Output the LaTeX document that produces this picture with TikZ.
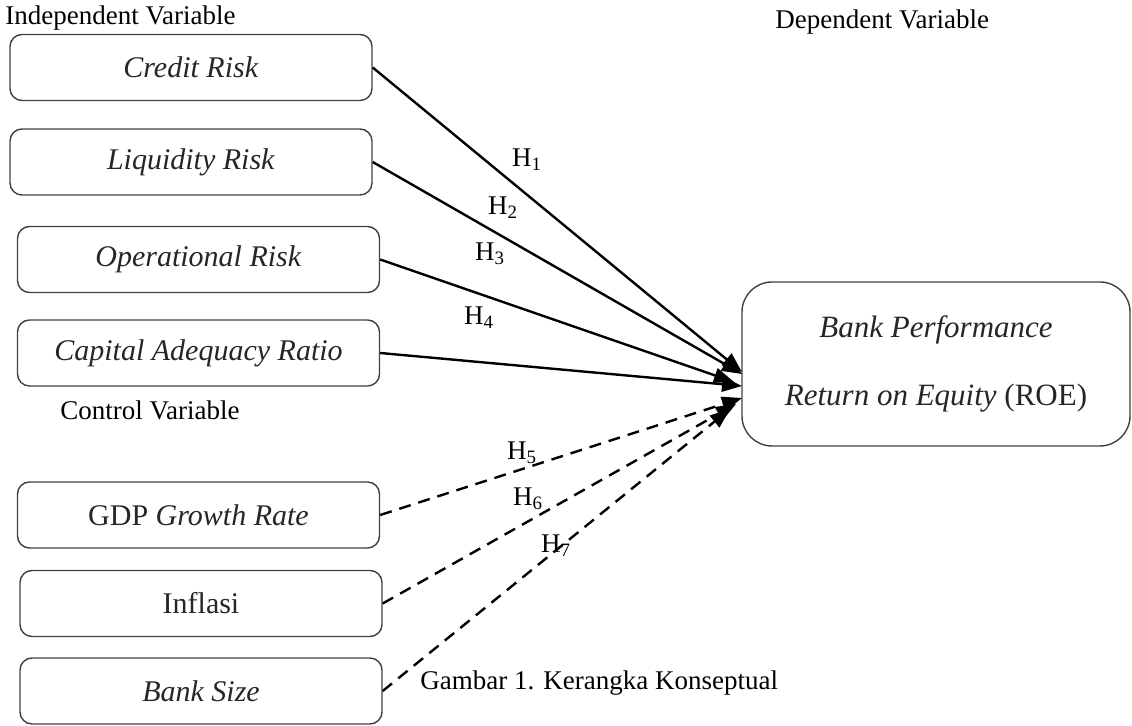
\documentclass[tikz,border=0pt]{standalone}
\usepackage{fontspec}
\setmainfont{Liberation Serif}
\usetikzlibrary{arrows.meta}
\begin{document}
\begin{tikzpicture}[x=0.5pt, y=-0.5pt,
    varbox/.style={draw=black!75, line width=0.7pt, rounded corners=6pt,
        minimum width=181pt, minimum height=33pt, inner sep=0pt,
        font=\fontsize{15}{18}\selectfont, text=black!85},
    hyp/.style={-{Triangle[length=10pt,width=7.5pt]}, line width=1.2pt},
    ctl/.style={hyp, dash pattern=on 6pt off 4pt},
    lbl/.style={font=\fontsize{13.5}{16}\selectfont, inner sep=0pt}]
\useasboundingbox (0,0) rectangle (1132,726);
% independent variables
\node[varbox] (cr) at (191,67.5) {\textit{Credit Risk}};
\node[varbox] (lr) at (191,162) {\textit{Liquidity Risk}};
\node[varbox] (or) at (198.5,259.5) {\textit{Operational Risk}};
\node[varbox] (car) at (198.5,353) {\textit{Capital Adequacy Ratio}};
% control variables
\node[varbox] (gdp) at (198.5,515) {GDP \textit{Growth Rate}};
\node[varbox] (inf) at (201,603.5) {Inflasi};
\node[varbox] (bs) at (201,691) {\textit{Bank Size}};
% dependent variable
\node[varbox, rounded corners=15pt, minimum width=194pt, minimum height=82pt,
    align=center, font=\fontsize{15.5}{34}\selectfont] (roe) at (936,364)
    {\textit{Bank Performance}\\\textit{Return on Equity} (ROE)};
% headings
\node[lbl, anchor=west] (iv) at (5,18) {Independent Variable};
\node[lbl, anchor=west] (dv) at (775,22) {Dependent Variable};
\node[lbl, anchor=west] (cv) at (60,410) {Control Variable};
\node[lbl, anchor=west] (cap) at (420,683) {Gambar 1. Kerangka Konseptual};
% arrow ends
\coordinate (e1) at (742,372);
\coordinate (e2) at (742,374);
\coordinate (e3) at (734,382);
\coordinate (e4) at (742,386);
\coordinate (e5) at (742,398);
\coordinate (e6) at (736,404);
\coordinate (e7) at (730,409);
\draw[hyp] (cr.east) -- (e1);
\draw[hyp] (lr.east) -- (e2);
\draw[hyp] (or.east) -- (e3);
\draw[hyp] (car.east) -- (e4);
\draw[ctl] (gdp.east) -- (e5);
\draw[ctl] (inf.east) -- (e6);
\draw[ctl] (bs.east) -- (e7);
% hypotheses
\node[lbl] (h1) at (527,160) {H\textsubscript{1}};
\node[lbl] (h2) at (503,208) {H\textsubscript{2}};
\node[lbl] (h3) at (490,254) {H\textsubscript{3}};
\node[lbl] (h4) at (479,318) {H\textsubscript{4}};
\node[lbl] (h5) at (522,453) {H\textsubscript{5}};
\node[lbl] (h6) at (528,499) {H\textsubscript{6}};
\node[lbl] (h7) at (556,546) {H\textsubscript{7}};
\end{tikzpicture}
\end{document}
